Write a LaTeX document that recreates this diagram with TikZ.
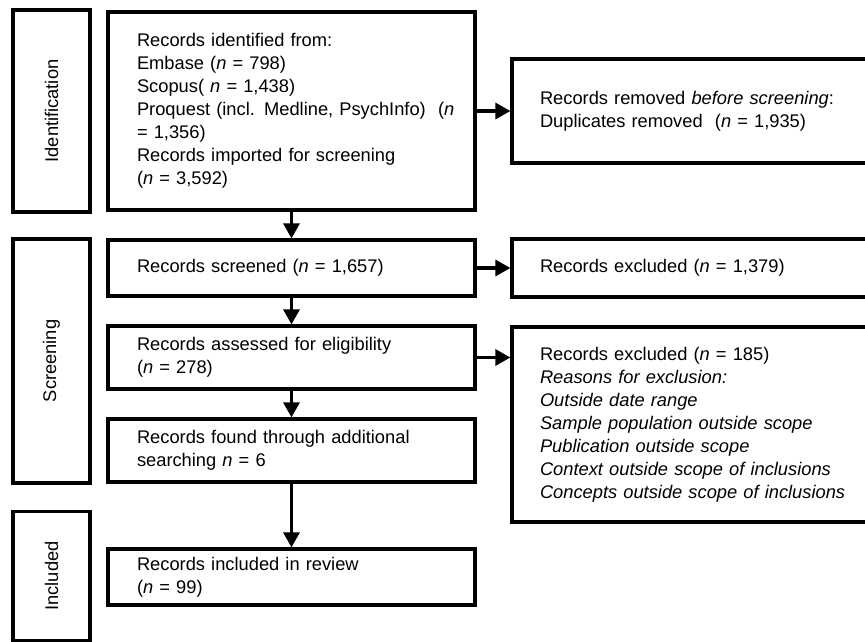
\documentclass[tikz,border=0pt]{standalone}
\usepackage{fontspec}
\setmainfont{Liberation Sans}
\usetikzlibrary{positioning,arrows.meta}

\begin{document}
\begin{tikzpicture}[
    x=1pt, y=-1pt,
    every node/.style={font=\fontsize{18.3}{23}\selectfont},
    stage/.style={draw, line width=3.2pt, rotate=90, minimum height=77pt, inner sep=0pt},
    recbox/.style={draw, line width=3.2pt, align=left, text width=309pt, inner xsep=29pt, inner ysep=0pt},
    exbox/.style={recbox, text width=332pt, inner xsep=28pt},
    flow/.style={line width=3.2pt, -{Triangle[length=15pt, width=16pt]}},
]
\path[use as bounding box] (0,0) rectangle (865,642);
\clip (0,0) rectangle (865,642);

% =====================================================================
% Stage labels on the left
% =====================================================================
\node[stage, minimum width=202pt] (idlab) at (51.5,111) {Identification};
\node[stage, minimum width=244pt] (scrlab) at (51.5,361) {Screening};
\node[stage, minimum width=129pt] (inclab) at (51.5,576) {Included};

% =====================================================================
% Main column of records
% =====================================================================
\node[recbox, minimum height=198pt] (ident) at (291.5,111) {%
    Records identified from:\\
    Embase (\textit{n} = 798)\\
    Scopus( \textit{n} = 1,438)\\
    \mbox{Proquest (incl. Medline, PsychInfo) \ (\textit{n}}\\
    = 1,356)\\
    Records imported for screening\\
    (\textit{n} = 3,592)};
\node[recbox, minimum height=56pt] (screened) at (291.5,268)
    {Records screened (\textit{n} = 1,657)};
\node[recbox, minimum height=63pt] (assess) at (291.5,357.5)
    {Records assessed for eligibility\\(\textit{n} = 278)};
\node[recbox, minimum height=63pt] (addl) at (291.5,450.5)
    {Records found through additional\\searching \textit{n} = 6};
\node[recbox, minimum height=56pt] (incl) at (291.5,577)
    {Records included in review\\(\textit{n} = 99)};

% =====================================================================
% Records removed / excluded on the right
% =====================================================================
\node[exbox, minimum height=104pt] (removed) at (706,111)
    {Records removed \textit{before screening}:\\Duplicates removed \ (\textit{n} = 1,935)};
\node[exbox, minimum height=58pt] (excl1) at (706,268)
    {Records excluded (\textit{n} = 1,379)};
\node[exbox, minimum height=195pt] (excl2) at (706,424.5) {%
    Records excluded (\textit{n} = 185)\\
    \textit{Reasons for exclusion:}\\
    \textit{Outside date range}\\
    \textit{Sample population outside scope}\\
    \textit{Publication outside scope}\\
    \textit{Context outside scope of inclusions}\\
    \textit{Concepts outside scope of inclusions}};

% Arrows
\draw[flow] (ident.south) -- (screened.north);
\draw[flow] (screened.south) -- (assess.north);
\draw[flow] (assess.south) -- (addl.north);
\draw[flow] (addl.south) -- (incl.north);
\draw[flow] (ident.east) -- (removed.west);
\draw[flow] (screened.east) -- (excl1.west);
\draw[flow] (assess.east) -- (assess.east -| excl2.west);

\end{tikzpicture}
\end{document}
